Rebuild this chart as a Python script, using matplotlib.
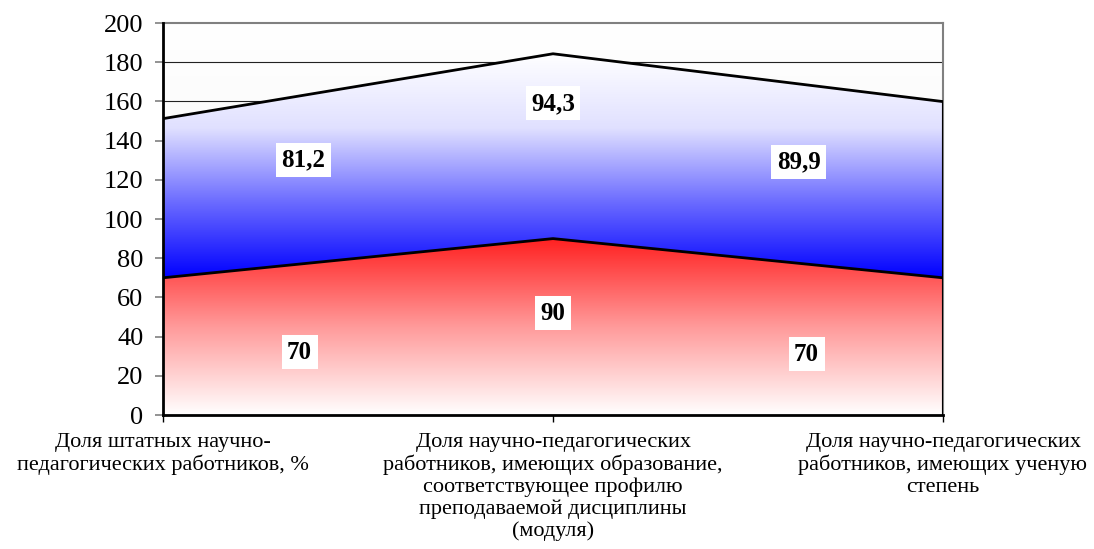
import numpy as np
import matplotlib.pyplot as plt
from matplotlib.colors import LinearSegmentedColormap

categories = [
    "Доля штатных научно-\nпедагогических работников, %",
    "Доля научно-педагогических\nработников, имеющих образование,\nсоответствующее профилю\nпреподаваемой дисциплины\n(модуля)",
    "Доля научно-педагогических\nработников, имеющих ученую\nстепень",
]
red_values = [70, 90, 70]
blue_values = [81.2, 94.3, 89.9]
red_labels = ["70", "90", "70"]
blue_labels = ["81,2", "94,3", "89,9"]
y_ticks = [0, 20, 40, 60, 80, 100, 120, 140, 160, 180, 200]

# where Excel put the data labels (x offset from category, y in data units)
red_label_pos = [(0.35, 32), (0.0, 52), (-0.35, 31)]
blue_label_pos = [(0.36, 130), (0.0, 159), (-0.37, 129)]

plt.rcParams['font.family'] = ['Liberation Serif', 'DejaVu Serif']

fig = plt.figure(figsize=(10.94, 5.49), dpi=100)
ax = fig.add_axes([163 / 1094, 1 - 415 / 549, 780 / 1094, 392 / 549])

x = np.arange(len(categories))
red = np.array(red_values)
top = red + np.array(blue_values)

ax.set_xlim(0, len(categories) - 1)
ax.set_ylim(0, 200)

# plot area background: faint gradient
bg = LinearSegmentedColormap.from_list("bg", ["#f0f0f0", "#ffffff"])
ax.imshow(np.linspace(0, 1, 256).reshape(-1, 1), cmap=bg, aspect="auto",
          extent=[0, 2, 0, 200], origin="lower", zorder=0)

for yv in y_ticks[1:-1]:
    ax.axhline(yv, color="#222222", lw=0.8, zorder=1)

# red series: white at bottom -> red at top
red_cmap = LinearSegmentedColormap.from_list("r", ["#ffffff", "#ff9a9a", "#ff2020"])
poly_r = ax.fill_between(x, 0, red, facecolor="none", edgecolor="none")
im_r = ax.imshow(np.linspace(0, 1, 256).reshape(-1, 1), cmap=red_cmap, aspect="auto",
                 extent=[0, 2, 0, red.max()], origin="lower", zorder=2)
im_r.set_clip_path(poly_r.get_paths()[0], transform=ax.transData)

# blue series: blue at bottom -> white at top
blue_cmap = LinearSegmentedColormap.from_list("b", ["#0000ff", "#6a6aff", "#e0e0ff", "#ffffff"])
poly_b = ax.fill_between(x, red, top, facecolor="none", edgecolor="none")
im_b = ax.imshow(np.linspace(0, 1, 256).reshape(-1, 1), cmap=blue_cmap, aspect="auto",
                 extent=[0, 2, red.min(), top.max()], origin="lower", zorder=2)
im_b.set_clip_path(poly_b.get_paths()[0], transform=ax.transData)

ax.plot(x, red, color="black", lw=2, zorder=3)
ax.plot(x, top, color="black", lw=2, zorder=3)
ax.plot([2, 2], [0, top[-1]], color="black", lw=1.5, zorder=3)

box = dict(facecolor="white", edgecolor="none", pad=4)
for i in range(len(categories)):
    dx, yv = red_label_pos[i]
    ax.text(i + dx, yv, red_labels[i], ha="center", va="center", fontsize=18,
            fontweight="bold", bbox=box, zorder=5)
    dx, yv = blue_label_pos[i]
    ax.text(i + dx, yv, blue_labels[i], ha="center", va="center", fontsize=18,
            fontweight="bold", bbox=box, zorder=5)

for s in ["top", "right"]:
    ax.spines[s].set_color("#808080")
    ax.spines[s].set_linewidth(1.5)
for s in ["left", "bottom"]:
    ax.spines[s].set_color("black")
    ax.spines[s].set_linewidth(2)
    ax.spines[s].set_zorder(4)

ax.set_yticks(y_ticks)
ax.tick_params(axis="y", labelsize=19, length=6, width=1.2, color="#808080", pad=8)
ax.set_xticks(x)
ax.set_xticklabels(categories, fontsize=16, linespacing=1.17)
ax.tick_params(axis="x", length=5, width=1, color="black", pad=8)

fig.savefig("out.png", dpi=100)
